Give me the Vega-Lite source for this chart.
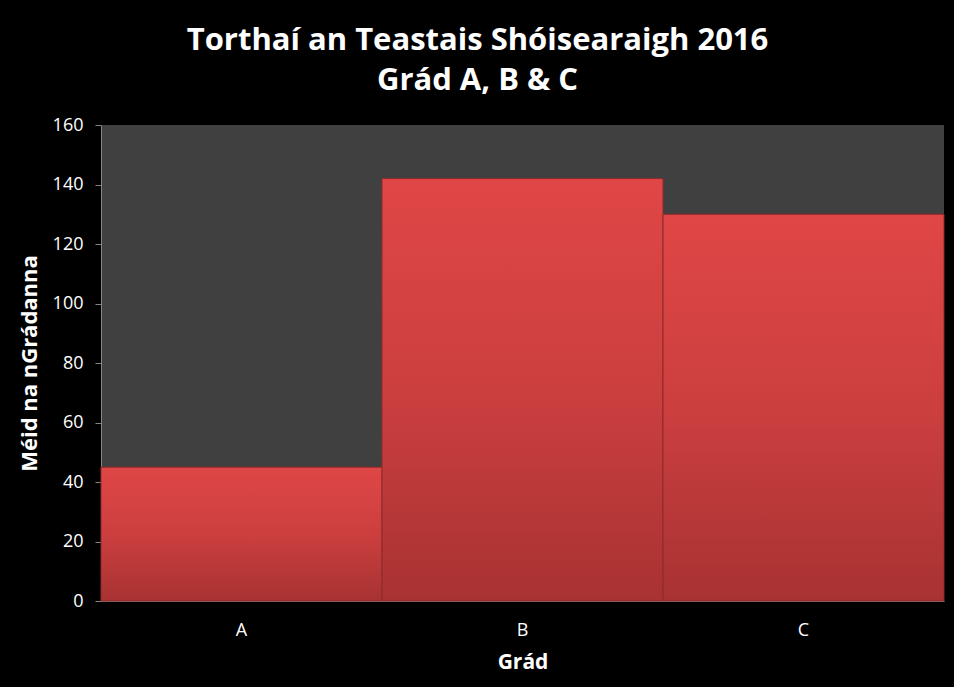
{
  "$schema": "https://vega.github.io/schema/vega-lite/v6.json",
  "width": 843,
  "height": 476,
  "autosize": {"type": "none"},
  "padding": {"left": 101, "top": 125, "right": 10, "bottom": 86},
  "background": "#000000",
  "title": {
    "text": ["Torthaí an Teastais Shóisearaigh 2016", "Grád A, B & C"],
    "color": "#ffffff",
    "font": "Open Sans",
    "fontWeight": "bold",
    "fontSize": 31,
    "lineHeight": 40,
    "anchor": "middle",
    "dx": -45,
    "offset": 19
  },
  "data": {
    "values": [
      {"grad": "A", "count": 45},
      {"grad": "B", "count": 142},
      {"grad": "C", "count": 130}
    ]
  },
  "config": {
    "view": {"fill": "#404040", "stroke": null},
    "axis": {
      "labelColor": "#ffffff",
      "titleColor": "#ffffff",
      "domainColor": "#868686",
      "tickColor": "#868686",
      "labelFont": "Open Sans",
      "titleFont": "Open Sans",
      "grid": false
    }
  },
  "mark": {
    "type": "bar",
    "stroke": "#8e2a2a",
    "strokeWidth": 1,
    "color": {
      "gradient": "linear",
      "x1": 0, "y1": 0, "x2": 0, "y2": 1,
      "stops": [
        {"offset": 0, "color": "#e04646"},
        {"offset": 0.5, "color": "#cc3f3f"},
        {"offset": 1, "color": "#a83232"}
      ]
    }
  },
  "encoding": {
    "x": {
      "field": "grad",
      "type": "nominal",
      "title": "Grád",
      "scale": {"paddingInner": 0, "paddingOuter": 0},
      "axis": {"labelAngle": 0, "ticks": false, "labelFontSize": 18, "labelColor": "#ffffff", "labelPadding": 20, "titleFontSize": 21, "titleFontWeight": "bold", "titleColor": "#ffffff", "titlePadding": 12}
    },
    "y": {
      "field": "count",
      "type": "quantitative",
      "title": "Méid na nGrádanna",
      "scale": {"domain": [0, 160], "nice": false},
      "axis": {"values": [0, 20, 40, 60, 80, 100, 120, 140, 160], "tickSize": 6, "labelFontSize": 18, "labelColor": "#ffffff", "labelPadding": 12, "titleFontSize": 22, "titleFontWeight": "bold", "titleColor": "#ffffff", "titlePadding": 11}
    }
  }
}
